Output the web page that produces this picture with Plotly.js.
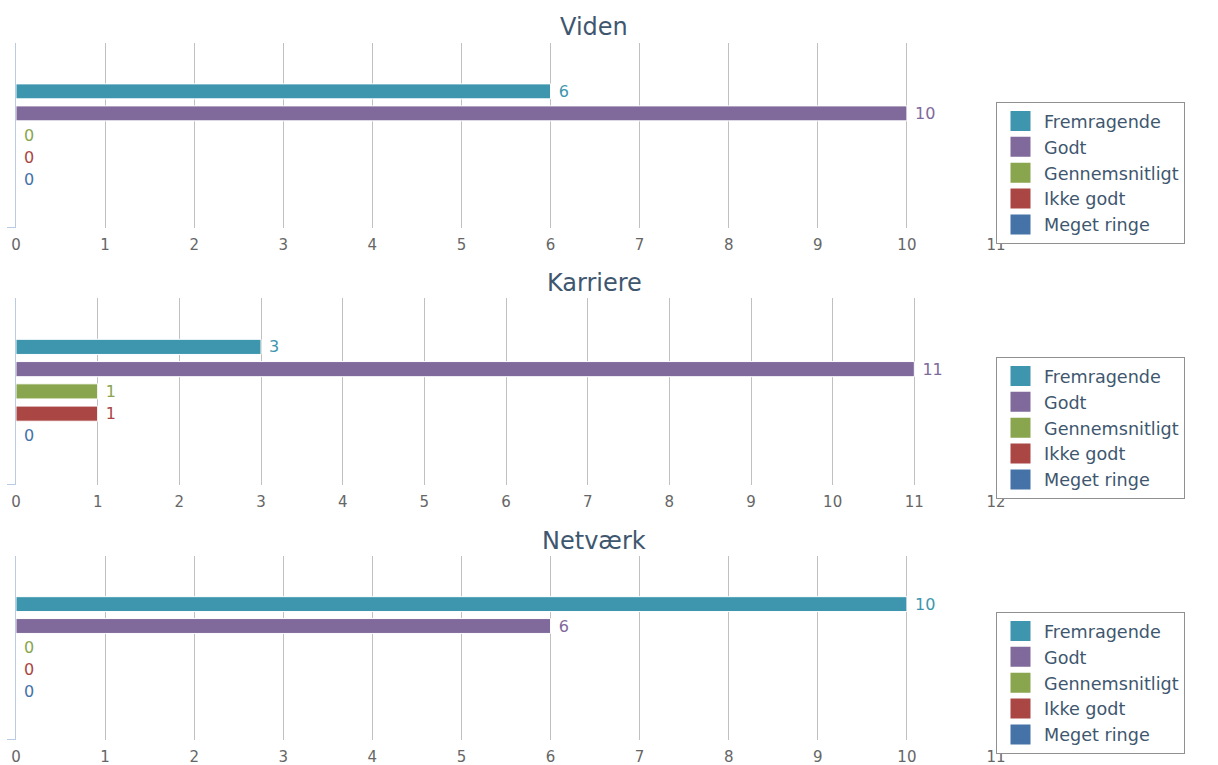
<!DOCTYPE html>
<html>
<head>
<meta charset="utf-8">
<script src="https://cdn.plot.ly/plotly-3.0.1.min.js"></script>
<style>html,body{margin:0;padding:0;background:#fff}#chart{width:1218px;height:765px}</style>
</head>
<body>
<div id="chart"></div>
<script>
// ---- data ----
const panels = ['Viden', 'Karriere', 'Netværk'];
const seriesNames = ['Fremragende', 'Godt', 'Gennemsnitligt', 'Ikke godt', 'Meget ringe'];
const videnValues = [6, 10, 0, 0, 0];
const karriereValues = [3, 11, 1, 1, 0];
const netvaerkValues = [10, 6, 0, 0, 0];
const axisMax = [11, 12, 11];

// ---- style ----
const colors = ['#3d96ae', '#80699b', '#89a54e', '#aa4643', '#4572a7'];
const FONT = 'DejaVu Sans, Verdana, sans-serif';
const panelValues = [videnValues, karriereValues, netvaerkValues];
const domains = [[0.7020, 0.9438], [0.3660, 0.6105], [0.0327, 0.2732]];
const titleY = [0.9647, 0.6301, 0.2928];
const legendY = [0.8667, 0.5333, 0.2000];

const traces = [];
const layout = {
  width: 1218, height: 765,
  margin: {l: 16, r: 222, t: 0, b: 0},
  paper_bgcolor: '#ffffff', plot_bgcolor: '#ffffff',
  barmode: 'group', bargap: 0.405, bargroupgap: 0.32,
  font: {family: FONT, color: '#666666'},
  showlegend: true,
  annotations: []
};

panels.forEach((p, i) => {
  const n = i + 1;
  const xa = n === 1 ? 'x' : 'x' + n;
  const ya = n === 1 ? 'y' : 'y' + n;
  const lg = n === 1 ? 'legend' : 'legend' + n;
  seriesNames.forEach((s, j) => {
    traces.push({
      type: 'bar', orientation: 'h',
      name: s,
      x: [panelValues[i][j]], y: [p],
      xaxis: xa, yaxis: ya, legend: lg, showlegend: false,
      marker: {color: colors[j], line: {color: '#ffffff', width: 1}},
      text: ['\u00A0' + panelValues[i][j]],
      textposition: 'outside', cliponaxis: false, constraintext: 'none',
      textfont: {family: FONT, size: 16, color: colors[j]},
      hoverinfo: 'x+name'
    });
  });
  // legend entries (no data, swatch only)
  seriesNames.forEach((s, j) => {
    traces.push({
      type: 'scatter', mode: 'markers', name: s,
      x: [null], y: [null], xaxis: xa, yaxis: ya, legend: lg,
      marker: {symbol: 'square', size: 16, color: colors[j], line: {color: colors[j], width: 4}},
      hoverinfo: 'skip'
    });
  });
  layout['xaxis' + (n === 1 ? '' : n)] = {
    domain: [0, 1], anchor: ya, range: [0, axisMax[i]], dtick: 1, tick0: 0,
    showgrid: true, gridcolor: '#c0c0c0', gridwidth: 1,
    zeroline: false, showline: false,
    ticks: 'outside', ticklen: 3, tickcolor: 'rgba(0,0,0,0)',
    tickfont: {family: FONT, size: 15, color: '#666666'}, fixedrange: true
  };
  layout['yaxis' + (n === 1 ? '' : n)] = {
    domain: domains[i], anchor: xa, type: 'category', range: [0.5005, -0.4995],
    showticklabels: false, showgrid: false, zeroline: false,
    showline: true, linecolor: '#b8cbe0', linewidth: 1,
    ticks: 'outside', tickson: 'boundaries', ticklen: 8, tickcolor: '#b8cbe0',
    fixedrange: true
  };
  layout[lg] = {
    xref: 'container', yref: 'container', x: 996 / 1218, y: legendY[i],
    xanchor: 'left', yanchor: 'top',
    bgcolor: '#ffffff', bordercolor: '#909090', borderwidth: 1,
    font: {family: FONT, size: 17.6, color: '#3e576f'},
    itemwidth: 37, traceorder: 'normal',
    entrywidth: 190, entrywidthmode: 'pixels'
  };
  layout.annotations.push({
    text: p, xref: 'paper', yref: 'paper', x: (594 - 16) / 980, y: titleY[i],
    xanchor: 'center', yanchor: 'middle', showarrow: false,
    font: {family: FONT, size: 24, color: '#3e576f'}
  });
});

Plotly.newPlot('chart', traces, layout, {displayModeBar: false, responsive: false});
</script>
</body>
</html>
